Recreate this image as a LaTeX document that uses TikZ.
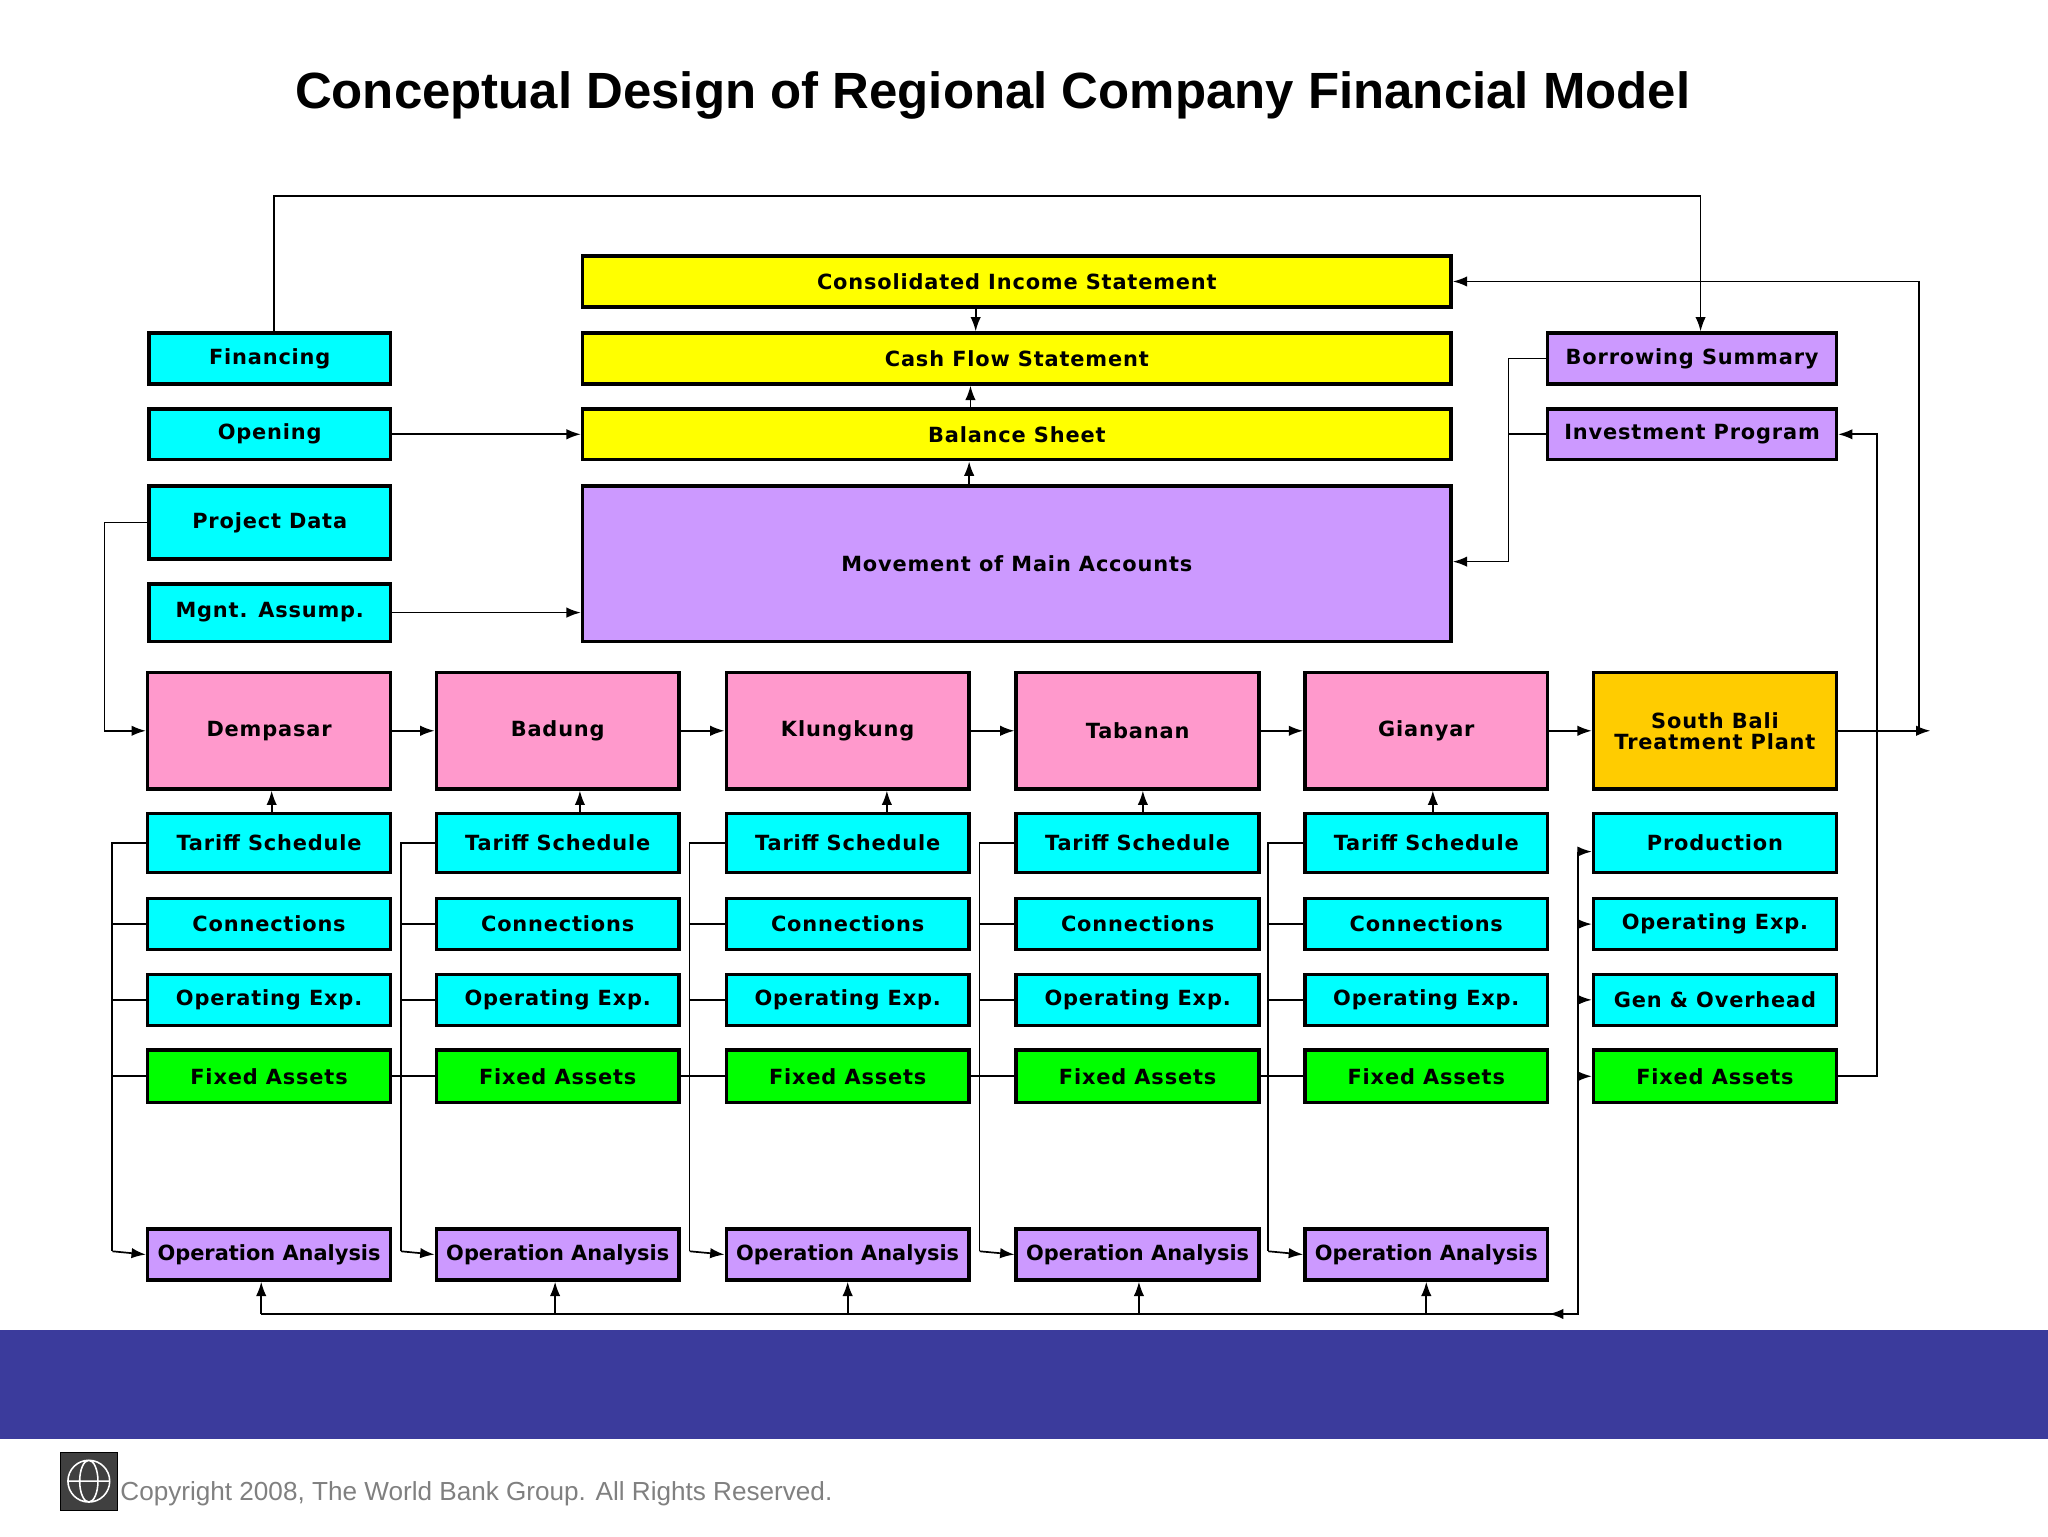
\documentclass[tikz,border=0pt]{standalone}
\usepackage{fontspec}
\setmainfont{DejaVu Sans}
\newfontfamily\ttl{Liberation Sans}
\usetikzlibrary{arrows.meta}
\definecolor{cy}{HTML}{00FFFF}
\definecolor{yl}{HTML}{FFFF00}
\definecolor{pu}{HTML}{CC99FF}
\definecolor{pk}{HTML}{FF99CC}
\definecolor{gr}{HTML}{00FF00}
\definecolor{og}{HTML}{FFCC00}
\definecolor{band}{HTML}{3B3B9C}
\tikzset{box/.style={draw=black,line width=2.6pt,inner sep=0pt,align=center,font=\fontsize{16}{16}\selectfont\bfseries\addfontfeature{LetterSpace=4}},
 ln/.style={line width=1.3pt},
 ar/.style={line width=1.3pt,-{Latex[length=11pt,width=8pt]}}}
\newcommand\bx[7]{\node[box,fill=#6,minimum width={(#4-#2)*1pt},minimum height={(#5-#3)*1pt}] (#1) at ({(#2+#4)/2},{(#3+#5)/2}) {#7};}
\begin{document}
\begin{tikzpicture}[x=1pt,y=-1pt]
\useasboundingbox (0,0) rectangle (1568,1176);
\fill[white] (0,0) rectangle (1568,1176);
\fill[band] (0,1018) rectangle (1568,1102);
\node[font=\ttl\fontsize{39}{42}\selectfont\bfseries] (title) at (760,73) {Conceptual Design of Regional Company Financial Model};
% left
\bx{fin}{114}{255}{299}{294}{cy}{Financing}
\bx{ope}{114}{313}{299}{352}{cy}{Opening}
\bx{pd}{114}{372}{299}{428}{cy}{Project Data}
\bx{mg}{114}{447}{299}{491}{cy}{Mgnt. Assump.}
% yellow
\bx{cis}{446}{196}{1111}{235}{yl}{Consolidated Income Statement}
\bx{cfs}{446}{255}{1111}{294}{yl}{Cash Flow Statement}
\bx{bs}{446}{313}{1111}{352}{yl}{Balance Sheet}
\bx{mov}{446}{372}{1111}{491}{pu}{Movement of Main Accounts}
\bx{bor}{1185}{255}{1406}{294}{pu}{Borrowing Summary}
\bx{inv}{1185}{313}{1406}{352}{pu}{Investment Program}
% columns
\foreach \i/\xa/\nm/\lx/\ax/\bxx in {1/113/Dempasar/86/208/200,2/334/Badung/307/444/425,3/556/Klungkung/528/679/649,4/778/Tabanan/750/875/872,5/999/Gianyar/971/1097/1092}{
 \pgfmathsetmacro\xb{\xa+186}
 \bx{p\i}{\xa}{515}{\xb}{604}{pk}{\nm}
 \bx{t\i}{\xa}{623}{\xb}{668}{cy}{Tariff Schedule}
 \bx{c\i}{\xa}{688}{\xb}{727}{cy}{Connections}
 \bx{o\i}{\xa}{746}{\xb}{785}{cy}{Operating Exp.}
 \bx{f\i}{\xa}{804}{\xb}{844}{gr}{Fixed Assets}
 \bx{a\i}{\xa}{941}{\xb}{980}{pu}{\addfontfeature{LetterSpace=0}Operation Analysis}
 \draw[ar] (\ax,0 |- t\i.north) -- (\ax,0 |- p\i.south);
 \draw[ln] (t\i.west) -| (\lx,958);
 \draw[ar] (\lx,958) -- (a\i.west);
 \draw[ln] (c\i.west) -- (\lx,0 |- c\i.west);
 \draw[ln] (o\i.west) -- (\lx,0 |- o\i.west);
 \draw[ln] (f\i.west) -- (\lx,0 |- f\i.west);
 \draw[ar] (\bxx,1006) -- (\bxx,0 |- a\i.south);
}
\bx{p6}{1220}{515}{1406}{604}{og}{South Bali\\Treatment Plant}
\bx{t6}{1220}{623}{1406}{668}{cy}{Production}
\bx{c6}{1220}{688}{1406}{727}{cy}{Operating Exp.}
\bx{o6}{1220}{746}{1406}{785}{cy}{Gen \& Overhead}
\bx{f6}{1220}{804}{1406}{844}{gr}{Fixed Assets}
\foreach \a/\b in {1/2,2/3,3/4,4/5,5/6}{\draw[ar] (p\a.east) -- (p\b.west);}
\foreach \a/\b in {1/2,2/3,3/4,4/5}{\draw[ln] (f\a.east) -- (f\b.west);}
% bottom bus
\coordinate (bl) at (200,1006);
\coordinate (br) at (1208,1006);
\draw[ln] (bl) -- (br) -- (1208,652);
\draw[ar] (1208,1006) -- (1186,1006);
\draw[ar] (1208,652) -- (t6.west |- 0,652);
\foreach \n in {c6,o6,f6}{\draw[ar] (1208,0 |- \n.west) -- (\n.west);}
% top connectors
\draw[ar] (210,0 |- fin.north) -- (210,150) -| (1302,0 |- bor.north);
\draw[ar] (ope.east) -- (bs.west |- ope.east);
\draw[ar] (mg.east) -- (mov.west |- mg.east);
\draw[ar] (pd.west) -- (80,0 |- pd.west) |- (p1.west);
\draw[ar] (747,0 |- cis.south) -- (747,0 |- cfs.north);
\draw[ar] (743,0 |- bs.north) -- (743,0 |- cfs.south);
\draw[ar] (742,0 |- mov.north) -- (742,0 |- bs.south);
\draw[ln] (bor.west) -- (1155,0 |- bor.west) -- (1155,430);
\draw[ln] (inv.west) -- (1155,0 |- inv.west);
\draw[ar] (1155,430) -- (mov.east |- 0,430);
\draw[ar] (p6.east) -- (1478,0 |- p6.east);
\draw[ar] (1469,0 |- p6.east) |- (cis.east);
\draw[ar] (f6.east) -- (1437,0 |- f6.east) |- (inv.east);
% footer
\node[draw=black,fill=black!75,minimum size=44pt,inner sep=0pt] (logo) at (68,1134) {};
\draw[white,line width=1.2pt] (logo.center) circle (16pt) (logo.center) ellipse (7pt and 16pt) (logo.west) ++(6pt,0) -- ++(32pt,0);
\node[anchor=west,text=gray,font=\ttl\fontsize{20}{22}\selectfont,inner sep=1pt] (copy) at (91,1144) {Copyright 2008, The World Bank Group. All Rights Reserved.};
\end{tikzpicture}
\end{document}
